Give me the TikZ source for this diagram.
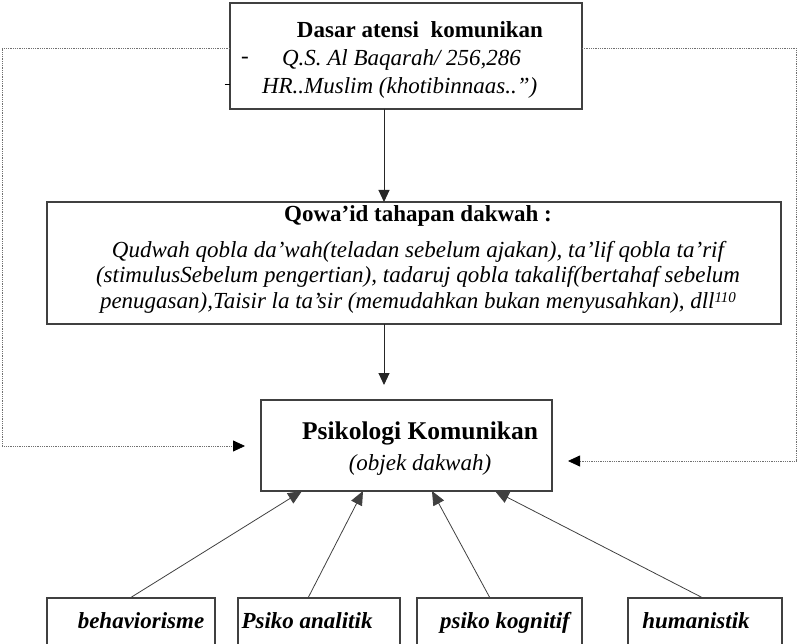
\documentclass[tikz,border=0pt]{standalone}
\usepackage{fontspec}
\setmainfont{Liberation Serif}
\usetikzlibrary{arrows.meta}
\definecolor{boxgray}{HTML}{404040}
\definecolor{dotgray}{HTML}{707070}
\begin{document}
\begin{tikzpicture}[x=1pt,y=-1pt,
  box/.style={draw=boxgray, line width=1.1pt, inner sep=0pt, outer sep=0pt, fill=white},
  txt/.style={inner sep=0pt, outer sep=0pt, font=\fontsize{23}{25}\selectfont},
  arr/.style={line width=1pt, draw=black!85, -{Triangle[length=12pt,width=11pt]}},
  arrthin/.style={line width=0.8pt, draw=boxgray, -{Triangle[length=14pt,width=12pt]}},
  dotline/.style={line width=0.8pt, draw=dotgray, dash pattern=on 0.9pt off 0.9pt,
     -{Triangle[length=12pt,width=11pt,fill=black,color=black]}},
  lab/.style={inner sep=0pt, anchor=base, font=\bfseries\itshape\fontsize{23}{25}\selectfont}
]
\useasboundingbox (0,0) rectangle (797,644);
\clip (0,0) rectangle (797,644);

% boxes
\node[box, minimum width=352pt, minimum height=106pt] (top) at (406,56) {};
\node[box, minimum width=734pt, minimum height=122pt] (mid) at (414,263) {};
\node[box, minimum width=291pt, minimum height=91pt] (psy) at (406.5,445.5) {};
\node[box, minimum width=168pt, minimum height=80pt, anchor=north] (b1) at (131,598) {};
\node[box, minimum width=162pt, minimum height=80pt, anchor=north] (b2) at (319,598) {};
\node[box, minimum width=165pt, minimum height=80pt, anchor=north] (b3) at (499.5,598) {};
\node[box, minimum width=154pt, minimum height=80pt, anchor=north] (b4) at (705,598) {};

% top box text
\node[txt, font=\bfseries\fontsize{23}{25}\selectfont] (t1) at (420,30) {Dasar atensi\ \ komunikan};
\node[txt] (t2) at (245,60) {-};
\node[txt, anchor=west, font=\itshape\fontsize{23}{25}\selectfont] (t3) at (282,60) {Q.S. Al Baqarah/ 256,286};
\node[txt, anchor=west, font=\itshape\fontsize{23}{25}\selectfont] (t4) at (262,88) {HR..Muslim (khotibinnaas..”)};
\draw[line width=0.9pt] (224.5,84) -- (top.west |- 0,84);

% middle box text
\node[txt, font=\bfseries\fontsize{23}{25}\selectfont] (m1) at (418,216) {Qowa’id tahapan dakwah :};
\node[txt, align=center, font=\itshape\fontsize{23}{25.5}\selectfont] (m2) at (418,277)
 {Qudwah qobla da’wah(teladan sebelum ajakan), ta’lif qobla ta’rif\\
  (stimulusSebelum pengertian), tadaruj qobla takalif(bertahaf sebelum\\
  penugasan),Taisir la ta’sir (memudahkan bukan menyusahkan), dll{\fontsize{15}{15}\selectfont\raisebox{6pt}{110}}};

% psikologi text
\node[txt, font=\bfseries\fontsize{25.5}{29}\selectfont] (p1) at (420,433) {Psikologi Komunikan};
\node[txt, font=\itshape\fontsize{23}{25}\selectfont] (p2) at (420,465) {(objek dakwah)};

% bottom labels
\node[lab] (l1) at (141,628) {behaviorisme};
\node[lab] (l2) at (307,628) {Psiko analitik};
\node[lab] (l3) at (505,628) {psiko kognitif};
\node[lab] (l4) at (696,628) {humanistik};

% vertical arrows
\coordinate (ax) at (384,0);
\draw[arr] (top.south -| ax) -- (mid.north -| ax);
\draw[arr] (mid.south -| ax) -- ([yshift=15pt]psy.north -| ax);

% dotted feedback
\coordinate (c1) at (2,48);
\coordinate (c2) at (2,446);
\coordinate (c3) at (796,48);
\coordinate (c4) at (796,461);
\draw[dotline] ([yshift=8pt]top.west) -- (c1) -- (c2) -- ([xshift=-16pt]psy.west |- c2);
\draw[dotline] ([yshift=8pt]top.east) -- (c3) -- (c4) -- ([xshift=16pt]psy.east |- c4);

% bottom arrows
\draw[arrthin] ([xshift=-1pt]b1.north) -- ([xshift=41pt]psy.south west);
\draw[arrthin] ([xshift=-11pt]b2.north) -- ([xshift=102pt]psy.south west);
\draw[arrthin] ([xshift=-9.5pt]b3.north) -- ([xshift=171pt]psy.south west);
\draw[arrthin] ([xshift=-2pt]b4.north) -- ([xshift=234pt]psy.south west);
\end{tikzpicture}
\end{document}
